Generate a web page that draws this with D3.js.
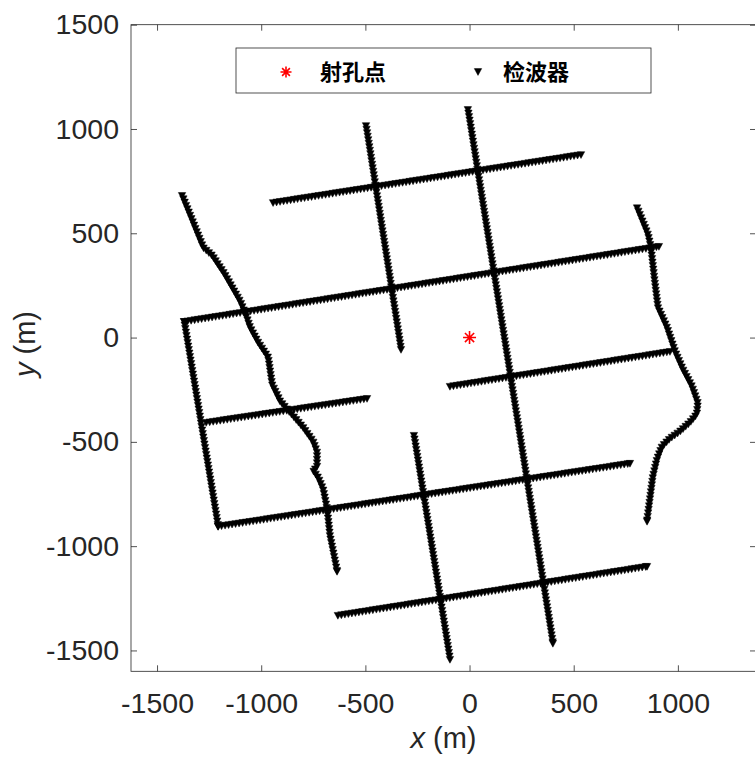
<!DOCTYPE html>
<html>
<head>
<meta charset="utf-8">
<script src="https://cdn.jsdelivr.net/npm/d3@7"></script>
<style>
  body { margin: 0; background: #fff; }
  svg { display: block; }
</style>
</head>
<body>
<svg id="chart" width="755" height="758"></svg>
<script>
// Axis ticks (metres)
const xTicks = [-1500, -1000, -500, 0, 500, 1000];
const yTicks = [-1500, -1000, -500, 0, 500, 1000, 1500];

// Shot (perforation) point
const shotPoints = [[0, 0]];

// Receiver lines: surveyed waypoints [x, y] in metres
const lineNorth    = [[-943, 645], [535, 875]];
const lineUpper    = [[-1370, 75], [909, 435]];
const lineWestMid  = [[-1264, -409], [-492, -294]];
const lineEastMid  = [[-94, -236], [962, -69]];
const lineLower    = [[-1207, -907], [770, -605]];
const lineSouth    = [[-632, -1334], [852, -1099]];
const lineWestEdge = [[-1370, 75], [-1207, -907]];
const lineCrossA   = [[-497, 1014], [-329, -59]];
const lineCrossB   = [[-8, 1091], [400, -1468]];
const lineCrossC   = [[-267, -471], [-94, -1545]];
const lineWinding  = [
  [-1380, 679], [-1279, 430], [-1236, 392], [-1178, 305], [-1101, 171],
  [-1073, 104], [-1054, 47], [-1015, -25], [-967, -97], [-948, -227],
  [-909, -308], [-862, -361], [-799, -433], [-751, -500], [-732, -553],
  [-732, -625], [-751, -639], [-727, -673], [-703, -730], [-684, -826],
  [-670, -955], [-636, -1123]
];
const lineRiver = [
  [804, 620], [856, 492], [870, 430], [890, 253], [904, 142], [947, 47],
  [986, -69], [1024, -155], [1067, -236], [1096, -318], [1091, -370],
  [1058, -409], [1010, -452], [962, -486], [924, -524], [900, -586],
  [880, -672], [866, -778], [852, -883]
];
const receiverLines = [
  lineNorth, lineUpper, lineWestMid, lineEastMid, lineLower, lineSouth,
  lineWestEdge, lineCrossA, lineCrossB, lineCrossC, lineWinding, lineRiver
];
// Receiver station interval along each line (m)
const stationInterval = 17;

const legendLabels = ["射孔点", "检波器"];

// ---- layout ----
const svg = d3.select("#chart");
const plot = { left: 131, top: 24.7, right: 756, bottom: 671.3 };
const axisColor = "#262626";
const font = "'Liberation Sans', Arial, Helvetica, sans-serif";

const x = d3.scaleLinear().domain([-1625, 1375]).range([plot.left, plot.right]);
const y = d3.scaleLinear().domain([-1600, 1500]).range([plot.bottom, plot.top]);

// Stations along a polyline at the survey interval
function stationsAlong(line) {
  const out = [];
  let carry = 0;
  for (let i = 0; i < line.length - 1; i++) {
    const [x0, y0] = line[i], [x1, y1] = line[i + 1];
    const len = Math.hypot(x1 - x0, y1 - y0);
    let d = carry;
    while (d <= len) {
      const t = d / len;
      out.push([x0 + (x1 - x0) * t, y0 + (y1 - y0) * t]);
      d += stationInterval;
    }
    carry = d - len;
  }
  out.push(line[line.length - 1]);
  return out;
}

const receivers = receiverLines.flatMap(stationsAlong);

// Down-pointing triangle marker
const triW = 7.4, triH = 6.8;
const triPath = `M${-triW / 2},${-triH / 2}L${triW / 2},${-triH / 2}L0,${triH / 2}Z`;

// Asterisk marker (plus + cross)
function asterisk(g, r) {
  const d = r * Math.SQRT1_2;
  const p = `M0,${-r}L0,${r}M${-r},0L${r},0M${-d},${-d}L${d},${d}M${-d},${d}L${d},${-d}`;
  g.append("path").attr("d", p).attr("stroke", "#ff0000").attr("stroke-width", 1.6).attr("fill", "none");
}

// ---- clip to plot box ----
svg.append("clipPath").attr("id", "plotclip").append("rect")
  .attr("x", plot.left).attr("y", plot.top)
  .attr("width", plot.right - plot.left).attr("height", plot.bottom - plot.top);

const marks = svg.append("g").attr("clip-path", "url(#plotclip)");

// ---- receivers ----
marks.append("g").selectAll("path")
  .data(receivers)
  .join("path")
  .attr("d", triPath)
  .attr("transform", d => `translate(${x(d[0])},${y(d[1])})`)
  .attr("fill", "#000")
  .attr("stroke", "#000")
  .attr("stroke-width", 0.5);

// ---- shot point ----
marks.append("g").selectAll("g")
  .data(shotPoints)
  .join("g")
  .attr("transform", d => `translate(${x(d[0])},${y(d[1])})`)
  .each(function () { asterisk(d3.select(this), 6.5); });

// ---- axes (ticks inward, box on) ----
function styleAxis(g) {
  g.select(".domain").remove();
  g.selectAll(".tick line").attr("stroke", axisColor).attr("stroke-width", 0.8);
  g.selectAll(".tick text").attr("fill", axisColor).attr("font-size", 28.5).attr("font-family", font);
}
const fmt = d => String(d);

svg.append("g").attr("transform", `translate(0,${plot.bottom})`)
  .call(d3.axisBottom(x).tickValues(xTicks).tickFormat(fmt).tickSize(-6).tickPadding(21))
  .call(styleAxis);
svg.append("g").attr("transform", `translate(${plot.left},0)`)
  .call(d3.axisLeft(y).tickValues(yTicks).tickFormat(fmt).tickSize(-6).tickPadding(12))
  .call(styleAxis);
svg.append("g").attr("transform", `translate(0,${plot.top})`)
  .call(d3.axisTop(x).tickValues(xTicks).tickFormat("").tickSize(-6))
  .call(styleAxis);
svg.append("g").attr("transform", `translate(${plot.right},0)`)
  .call(d3.axisRight(y).tickValues(yTicks).tickFormat("").tickSize(-6))
  .call(styleAxis);

svg.append("rect").attr("x", plot.left).attr("y", plot.top)
  .attr("width", plot.right - plot.left).attr("height", plot.bottom - plot.top)
  .attr("fill", "none").attr("stroke", axisColor).attr("stroke-width", 0.8);

// ---- axis titles ----
const xTitle = svg.append("text")
  .attr("x", (plot.left + plot.right) / 2).attr("y", 748)
  .attr("text-anchor", "middle").attr("font-size", 29).attr("font-family", font)
  .attr("fill", axisColor);
xTitle.append("tspan").attr("font-style", "italic").text("x");
xTitle.append("tspan").text(" (m)");

const yTitle = svg.append("text")
  .attr("transform", `translate(35,${(plot.top + plot.bottom) / 2 - 4}) rotate(-90)`)
  .attr("text-anchor", "middle").attr("font-size", 29).attr("font-family", font)
  .attr("fill", axisColor);
yTitle.append("tspan").attr("font-style", "italic").text("y");
yTitle.append("tspan").text(" (m)");

// ---- legend ----
const legend = svg.append("g");
legend.append("rect").attr("x", 236).attr("y", 48).attr("width", 415).attr("height", 45)
  .attr("fill", "#fff").attr("stroke", axisColor).attr("stroke-width", 0.8);
asterisk(legend.append("g").attr("transform", "translate(286,72)"), 5.5);
legend.append("path").attr("d", triPath).attr("transform", "translate(478,72)")
  .attr("fill", "#000").attr("stroke", "#000").attr("stroke-width", 0.5);
legend.selectAll("text.lbl")
  .data(legendLabels)
  .join("text")
  .attr("class", "lbl")
  .attr("x", (d, i) => i === 0 ? 320 : 503)
  .attr("y", 80)
  .attr("font-size", 22).attr("font-weight", "bold")
  .attr("font-family", "'Noto Sans CJK SC', sans-serif")
  .attr("fill", "#000")
  .text(d => d);
</script>
</body>
</html>
